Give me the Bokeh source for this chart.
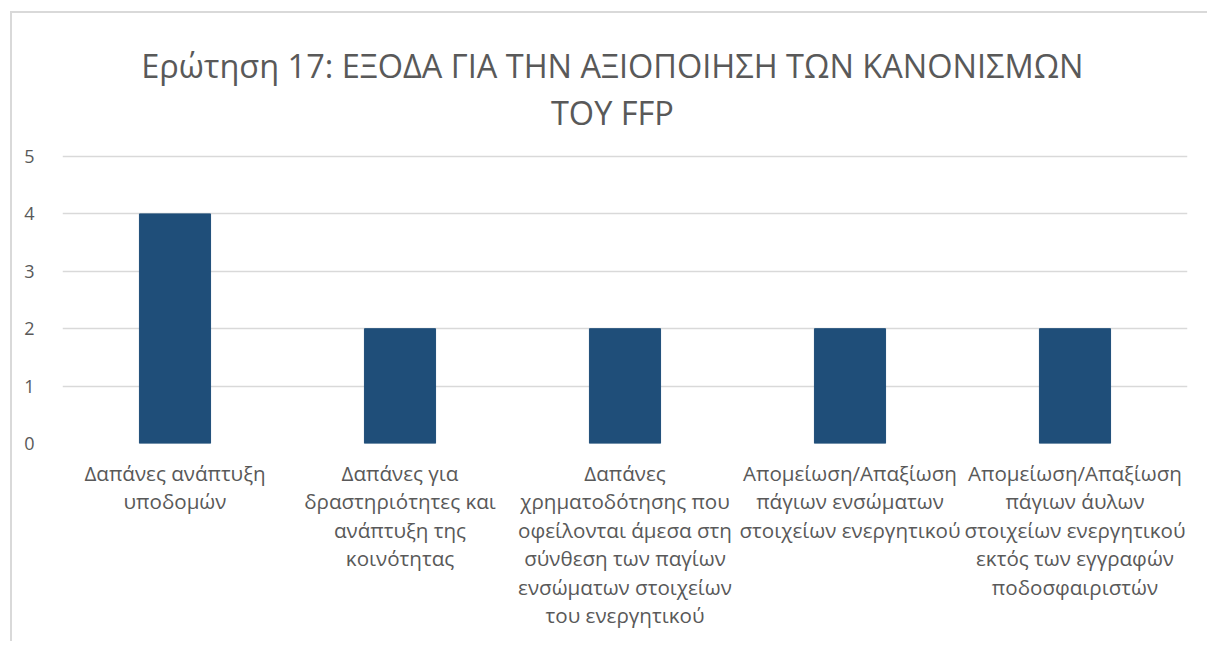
from bokeh.plotting import figure
from bokeh.models import Label, FactorRange
from bokeh.embed import file_html
from bokeh.resources import INLINE

categories = [
    "Δαπάνες ανάπτυξη\nυποδομών",
    "Δαπάνες για\nδραστηριότητες και\nανάπτυξη της\nκοινότητας",
    "Δαπάνες\nχρηματοδότησης που\nοφείλονται άμεσα στη\nσύνθεση των παγίων\nενσώματων στοιχείων\nτου ενεργητικού",
    "Απομείωση/Απαξίωση\nπάγιων ενσώματων\nστοιχείων ενεργητικού",
    "Απομείωση/Απαξίωση\nπάγιων άυλων\nστοιχείων ενεργητικού\nεκτός των εγγραφών\nποδοσφαιριστών",
]
values = [4, 2, 2, 2, 2]
y_ticks = [0, 1, 2, 3, 4, 5]
title_lines = ["Ερώτηση 17: ΕΞΟΔΑ ΓΙΑ ΤΗΝ ΑΞΙΟΠΟΙΗΣΗ ΤΩΝ ΚΑΝΟΝΙΣΜΩΝ", "ΤΟΥ FFP"]

FONT = "Open Sans"
GREY = "#595959"

# the frame reaches the top of the figure, so that the title can sit inside it;
# the axis only shows ticks 0..5
p = figure(
    x_range=FactorRange(factors=categories),
    y_range=(0, 7.491),
    width=1197, height=630,
    title=None,
    output_backend="svg", toolbar_location=None,
    min_border_left=50, min_border_right=22,
    min_border_top=0, min_border_bottom=200,
)
p.styles = {"margin-left": "10px", "margin-top": "11px",
            "border-left": "2px solid #d9d9d9", "border-top": "2px solid #d9d9d9"}
p.outline_line_color = None
p.background_fill_color = "white"
p.border_fill_color = "white"

p.vbar(x=categories, top=values, width=0.316, color="#1F4E79")

p.xgrid.grid_line_color = None
p.ygrid.ticker = y_ticks
p.ygrid.grid_line_color = "#d9d9d9"
p.ygrid.grid_line_width = 1.5
p.yaxis.ticker = y_ticks
p.yaxis.axis_line_color = None
p.yaxis.major_tick_line_color = None
p.yaxis.minor_tick_line_color = None
p.yaxis.major_label_standoff = 22
p.yaxis.major_label_text_font = FONT
p.yaxis.major_label_text_font_size = "18px"
p.yaxis.major_label_text_color = GREY

p.xaxis.axis_line_color = None
p.xaxis.major_tick_line_color = None
p.xaxis.major_label_standoff = 9
p.xaxis.major_label_text_font = FONT
p.xaxis.major_label_text_font_size = "20.6px"
p.xaxis.major_label_text_color = GREY
p.xaxis.major_label_text_line_height = 1.02
p.xaxis.major_label_orientation = "horizontal"

title_x = 2.444
for txt, ty in zip(title_lines, [6.585, 5.767]):
    p.add_layout(Label(x=title_x, y=ty, text=txt, text_align="center",
                       text_baseline="alphabetic", text_font=FONT,
                       text_font_size="32.5px", text_color=GREY))

open("out.html", "w").write(file_html(p, INLINE))
